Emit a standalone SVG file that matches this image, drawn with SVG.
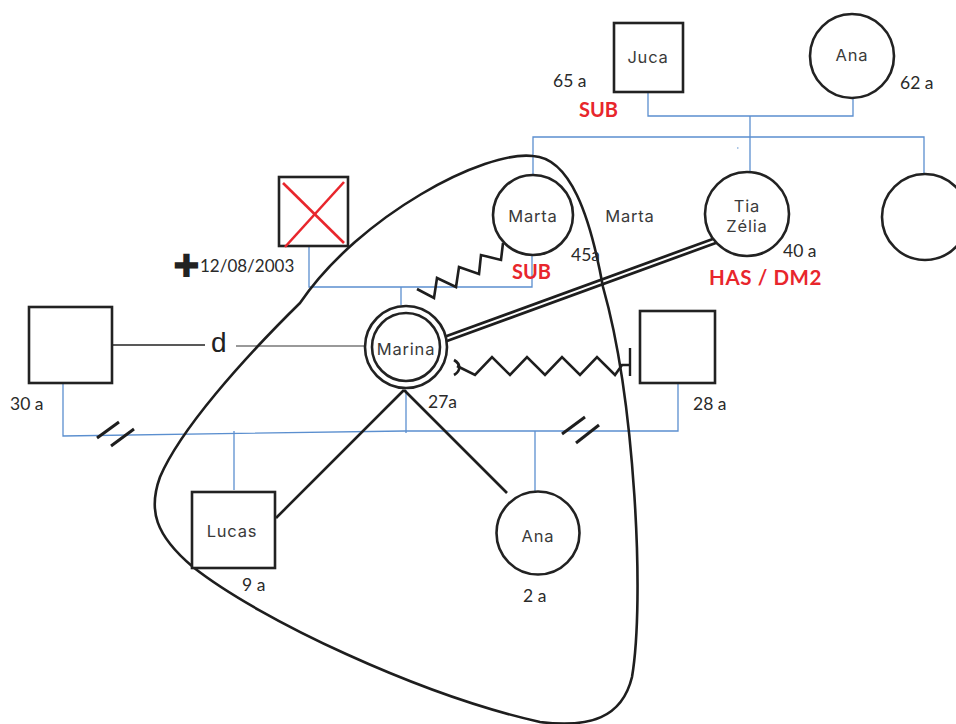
<svg xmlns="http://www.w3.org/2000/svg" width="956" height="724" viewBox="0 0 956 724">
<style>
.sh{fill:#fff;stroke:#222;stroke-width:2.6}
.bl{fill:none;stroke:#5b8fcf;stroke-width:1.3}
.bk{fill:none;stroke:#1e1e1e;stroke-width:2.6;stroke-linejoin:miter}
.nm{font-family:Inter,"Open Sans",sans-serif;font-size:16.5px;fill:#3a3a3a;letter-spacing:0.8px;text-anchor:middle}
.ag{font-family:Lato,"Open Sans",sans-serif;font-size:17.5px;fill:#2a2a2a}
.rd{font-family:Lato,"Open Sans",sans-serif;font-size:20px;font-weight:bold;fill:#e8262c}
</style>
<rect width="956" height="724" fill="#fff"/>
<g id="connectors">
<polyline class="bl" points="648,92 648,116 853,116 853,99"/>
<line class="bl" x1="750" y1="116" x2="750" y2="172"/>
<polyline class="bl" points="533,177 533,137 924,137 924,174"/>
<rect x="737" y="147.5" width="1.5" height="1" fill="#5b8fcf"/>
<polyline class="bl" points="309,230 309,287 532,287 532,230"/>
<line class="bl" x1="401" y1="287" x2="401" y2="305"/>
<polyline class="bl" points="63,383 63,436 405,431 678,431 678,383"/>
<line class="bl" x1="406" y1="390" x2="406" y2="433"/>
<line class="bl" x1="234" y1="431" x2="234" y2="490"/>
<line class="bl" x1="535" y1="431" x2="535" y2="491"/>
<line x1="112" y1="345" x2="205" y2="345" stroke="#222" stroke-width="1.4"/>
<line x1="236" y1="346" x2="366" y2="346" stroke="#777" stroke-width="1.4"/>
<line x1="404" y1="390" x2="276" y2="518" class="bk"/>
<line x1="404" y1="390" x2="507" y2="493" class="bk"/>
<line x1="440" y1="341" x2="717" y2="240" stroke="#1e1e1e" stroke-width="7.5"/>
<line x1="440" y1="341" x2="717" y2="240" stroke="#fff" stroke-width="2"/>
<polyline class="bk" stroke-width="2.4" points="417,289 434,298 437,278 456,287 459,267 479,274 481,255 501,260 503,243"/>
<path class="bk" stroke-width="2.4" d="M454,360 C461,364 461,371 454,375"/>
<polyline class="bk" stroke-width="2.4" points="457,366 475,375 492,357 510,375 527,357 545,375 562,357 580,375 597,357 615,375 622,365 630,365"/>
<line x1="630" y1="348" x2="630" y2="376" stroke="#1e1e1e" stroke-width="2.4"/>
<line x1="97" y1="438" x2="119" y2="422" stroke="#1e1e1e" stroke-width="3"/>
<line x1="111" y1="446" x2="134" y2="429" stroke="#1e1e1e" stroke-width="3"/>
<line x1="562" y1="434" x2="585" y2="417" stroke="#1e1e1e" stroke-width="3"/>
<line x1="576" y1="443" x2="599" y2="425" stroke="#1e1e1e" stroke-width="3"/>
<path class="bk" stroke-width="2.4" d="M533,156 C485,150 360,215 300,303 C242,360 180,430 160,477 C148,510 155,535 193,567 C260,620 420,695 540,722 C590,728 622,718 632,677 C645,600 635,400 603,287 C590,215 570,158 533,156 Z"/>
</g>
<g id="juca">
<rect class="sh" x="614" y="23" width="69" height="69"/>
<text class="nm" x="648" y="63">Juca</text>
<text class="ag" x="553" y="87">65 a</text>
<text class="rd" x="579" y="117">SUB</text>
</g>
<g id="ana-avo">
<circle class="sh" cx="852" cy="56" r="42"/>
<text class="nm" x="852" y="61">Ana</text>
<text class="ag" x="900" y="89">62 a</text>
</g>
<g id="tia-zelia">
<circle class="sh" cx="747" cy="214" r="42"/>
<text class="nm" x="747" y="212">Tia</text>
<text class="nm" x="747" y="232">Zélia</text>
<text class="ag" x="783" y="257">40 a</text>
<text class="rd" x="709" y="285" style="font-size:20.5px;letter-spacing:0.6px">HAS / DM2</text>
</g>
<g id="irma-direita">
<circle class="sh" cx="925" cy="217" r="43"/>
</g>
<g id="marta">
<circle class="sh" cx="533" cy="215" r="40"/>
<text class="nm" x="533" y="222">Marta</text>
<text class="ag" x="571" y="261">45a</text>
<text class="rd" x="512" y="279">SUB</text>
<text class="nm" x="630" y="222">Marta</text>
</g>
<g id="falecido">
<rect class="sh" x="279" y="177" width="69" height="69"/>
<line x1="283" y1="183" x2="344" y2="243" stroke="#e8262c" stroke-width="2.6"/>
<line x1="344" y1="182" x2="285" y2="247" stroke="#e8262c" stroke-width="2.6"/>
<text x="173" y="277" style="font-family:'DejaVu Sans',sans-serif;font-size:32px;fill:#222">✚</text>
<text class="ag" x="200" y="272" style="font-size:17px">12/08/2003</text>
</g>
<g id="marina">
<circle class="sh" cx="406" cy="347" r="41"/>
<circle class="sh" cx="406" cy="347" r="34"/>
<text class="nm" x="406" y="355">Marina</text>
<text class="ag" x="428" y="408">27a</text>
</g>
<g id="ex-marido">
<rect class="sh" x="29" y="307" width="83" height="76"/>
<text class="ag" x="10" y="410">30 a</text>
<text x="211" y="352" style="font-family:'Liberation Sans',Arial,sans-serif;font-size:28px;fill:#222">d</text>
</g>
<g id="companheiro">
<rect class="sh" x="640" y="311" width="75" height="72"/>
<text class="ag" x="693" y="410">28 a</text>
</g>
<g id="lucas">
<rect class="sh" x="192" y="492" width="83" height="76"/>
<text class="nm" x="232" y="537">Lucas</text>
<text class="ag" x="242" y="591">9 a</text>
</g>
<g id="ana-filha">
<circle class="sh" cx="538" cy="533" r="41.5"/>
<text class="nm" x="538" y="542">Ana</text>
<text class="ag" x="523" y="602">2 a</text>
</g>
</svg>
